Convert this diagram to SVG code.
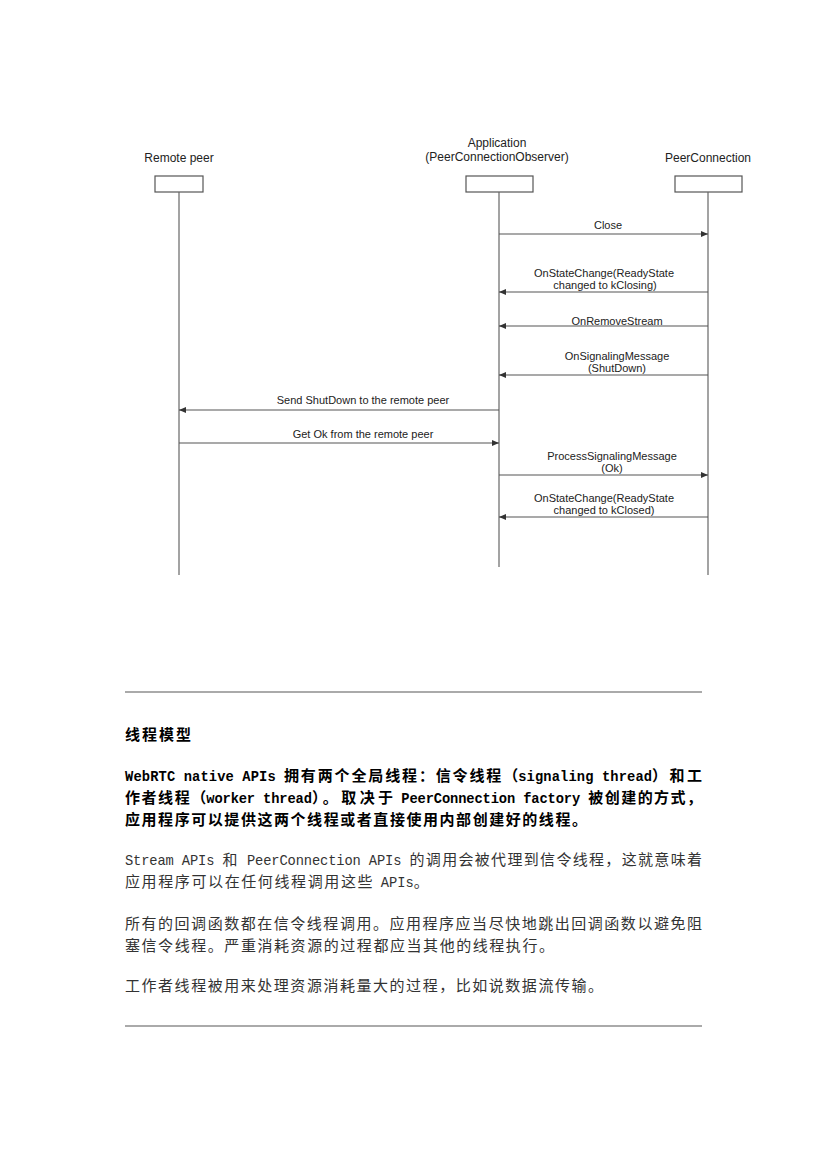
<svg xmlns="http://www.w3.org/2000/svg" width="826" height="1169" viewBox="0 0 826 1169">
<style>
.hdr{font-family:"Liberation Sans",Arial,sans-serif;font-size:12px;fill:#222;text-anchor:middle}
.msg{font-family:"Liberation Sans",Arial,sans-serif;font-size:11px;fill:#222;text-anchor:middle}
.box{fill:#fff;stroke:#555;stroke-width:1.2}
.life{stroke:#666;stroke-width:1.2;fill:none}
.arr{stroke:#555;stroke-width:1.2;fill:none;marker-end:url(#ah)}
.rule{stroke:#aaa;stroke-width:2}
.cn{font-family:"Noto Sans CJK SC","Noto Sans",sans-serif;font-size:15px}
.lat{font-family:"Liberation Mono","Noto Sans CJK SC",monospace;font-size:13.75px}
.b{font-weight:bold;fill:#000}
.n{fill:#333}
</style>
<defs>
<marker id="ah" markerWidth="7" markerHeight="6" refX="7" refY="3" orient="auto" markerUnits="userSpaceOnUse">
<path d="M0,0 L7,3 L0,6 z" fill="#333"/>
</marker>
</defs>
<rect width="826" height="1169" fill="#fff"/>

<g id="remote-peer">
<text class="hdr" x="179" y="162">Remote peer</text>
<rect class="box" x="155" y="176" width="48" height="16"/>
<line class="life" x1="179" y1="192" x2="179" y2="575"/>
</g>
<g id="application">
<text class="hdr" x="497" y="147">Application</text>
<text class="hdr" x="497" y="161">(PeerConnectionObserver)</text>
<rect class="box" x="466" y="176" width="67" height="16"/>
<line class="life" x1="499" y1="192" x2="499" y2="567"/>
</g>
<g id="peerconnection">
<text class="hdr" x="708" y="162">PeerConnection</text>
<rect class="box" x="675" y="176" width="67" height="16"/>
<line class="life" x1="708" y1="192" x2="708" y2="575"/>
</g>

<g id="connectors">
<line class="arr" x1="499" y1="234" x2="708" y2="234"/>
<text class="msg" x="608" y="229">Close</text>
<line class="arr" x1="708" y1="292" x2="499" y2="292"/>
<text class="msg" x="604" y="277">OnStateChange(ReadyState</text>
<text class="msg" x="605" y="289">changed to kClosing)</text>
<line class="arr" x1="708" y1="326" x2="499" y2="326"/>
<text class="msg" x="617" y="325">OnRemoveStream</text>
<line class="arr" x1="708" y1="375" x2="499" y2="375"/>
<text class="msg" x="617" y="360">OnSignalingMessage</text>
<text class="msg" x="617" y="372">(ShutDown)</text>
<line class="arr" x1="499" y1="410" x2="179" y2="410"/>
<text class="msg" x="363" y="404">Send ShutDown to the remote peer</text>
<line class="arr" x1="179" y1="443" x2="499" y2="443"/>
<text class="msg" x="363" y="438">Get Ok from the remote peer</text>
<line class="arr" x1="499" y1="475" x2="708" y2="475"/>
<text class="msg" x="612" y="460">ProcessSignalingMessage</text>
<text class="msg" x="612" y="472">(Ok)</text>
<line class="arr" x1="708" y1="517" x2="499" y2="517"/>
<text class="msg" x="604" y="502">OnStateChange(ReadyState</text>
<text class="msg" x="604" y="514">changed to kClosed)</text>
</g>

<line class="rule" x1="125" y1="692" x2="702" y2="692"/>

<text class="cn b" x="125" y="740" font-size="16" textLength="66" lengthAdjust="spacing">线程模型</text>

<text class="lat b" x="125" y="781" textLength="150.7" lengthAdjust="spacing">WebRTC native APIs</text>
<text class="cn b" x="284" y="781" textLength="234.2" lengthAdjust="spacing">拥有两个全局线程：信令线程（</text>
<text class="lat b" x="518.2" y="781" textLength="133.9" lengthAdjust="spacing">signaling thread</text>
<text class="cn b" x="652.1" y="781" textLength="50" lengthAdjust="spacing">）和工</text>

<text class="cn b" x="125" y="803" textLength="81.2" lengthAdjust="spacing">作者线程（</text>
<text class="lat b" x="206.3" y="803" textLength="105.6" lengthAdjust="spacing">worker thread</text>
<text class="cn b" x="311.9" y="803" textLength="81.2" lengthAdjust="spacing">）。取决于</text>
<text class="lat b" x="401.3" y="803" textLength="178.9" lengthAdjust="spacing">PeerConnection factory</text>
<text class="cn b" x="588.3" y="803" textLength="113.7" lengthAdjust="spacing">被创建的方式，</text>

<text class="cn b" x="125" y="825" textLength="462" lengthAdjust="spacing">应用程序可以提供这两个线程或者直接使用内部创建好的线程。</text>

<text class="lat n" x="125" y="865" textLength="89.4" lengthAdjust="spacing">Stream APIs</text>
<text class="cn n" x="222.6" y="865">和</text>
<text class="lat n" x="246.9" y="865" textLength="154.5" lengthAdjust="spacing">PeerConnection APIs</text>
<text class="cn n" x="409.5" y="865" textLength="292.5" lengthAdjust="spacing">的调用会被代理到信令线程，这就意味着</text>

<text class="cn n" x="125" y="887" textLength="247.5" lengthAdjust="spacing">应用程序可以在任何线程调用这些</text>
<text class="lat n" x="380.8" y="887" textLength="33" lengthAdjust="spacing">APIs</text>
<text class="cn n" x="413.8" y="887">。</text>

<text class="cn n" x="125" y="929" textLength="577" lengthAdjust="spacing">所有的回调函数都在信令线程调用。应用程序应当尽快地跳出回调函数以避免阻</text>
<text class="cn n" x="125" y="951" textLength="429" lengthAdjust="spacing">塞信令线程。严重消耗资源的过程都应当其他的线程执行。</text>

<text class="cn n" x="125" y="991" textLength="478" lengthAdjust="spacing">工作者线程被用来处理资源消耗量大的过程，比如说数据流传输。</text>

<line class="rule" x1="125" y1="1026" x2="702" y2="1026"/>
</svg>
